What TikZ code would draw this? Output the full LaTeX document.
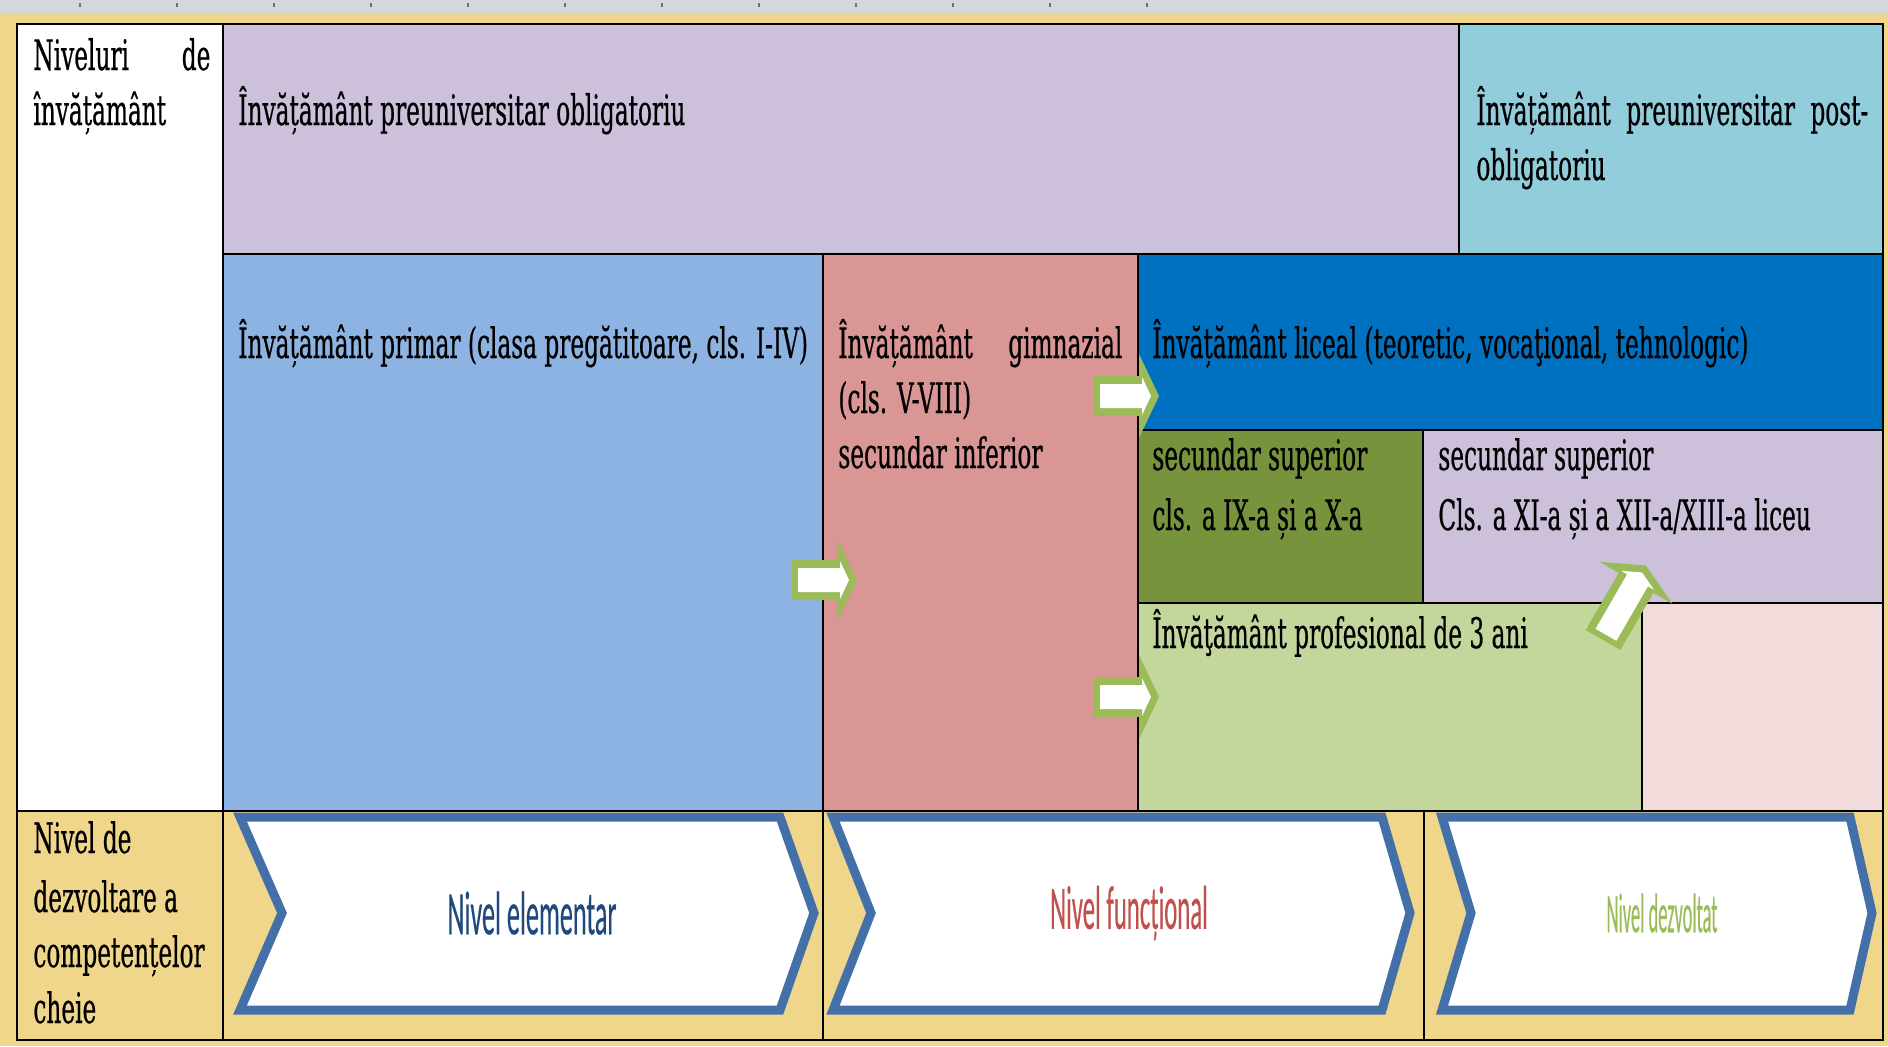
\documentclass[tikz,border=0pt]{standalone}
\usepackage{fontspec}
\usepackage{graphicx}
\setmainfont{DejaVu Serif}
\newfontfamily\cellfont[FakeStretch=0.553,FakeBold=0.5]{DejaVu Serif}
\newfontfamily\chevfont[FakeBold=0.4]{Carlito}
\definecolor{bgyellow}{HTML}{F0D68A}
\definecolor{rulergray}{HTML}{D4D7DB}
\definecolor{tickgray}{HTML}{707070}
\definecolor{cpurple}{HTML}{CCC0DA}
\definecolor{ccyan}{HTML}{92CDDC}
\definecolor{cblue}{HTML}{8DB3E2}
\definecolor{cpink}{HTML}{D99694}
\definecolor{cdarkblue}{HTML}{0070C0}
\definecolor{colive}{HTML}{77933C}
\definecolor{clightgreen}{HTML}{C3D69B}
\definecolor{clightpink}{HTML}{F2DCDB}
\definecolor{chevblue}{HTML}{4470AA}
\definecolor{arrowgreen}{HTML}{9BBB59}
\definecolor{txtblue}{HTML}{1F497D}
\definecolor{txtred}{HTML}{C0504D}
\definecolor{txtgreen}{HTML}{9BBB59}
\newcommand{\blkarrow}[4]{%
  \begin{scope}[shift={(#1,#2)}, rotate=#3]
    \fill[arrowgreen] (0,-20) -- (#4,-20) -- (#4,-42) -- ({#4+20},0) -- (#4,42) -- (#4,20) -- (0,20) -- cycle;
    \fill[white] (6,-12) -- ({#4+3},-12) -- ({#4+3},-19) -- ({#4+12},0) -- ({#4+3},19) -- ({#4+3},12) -- (6,12) -- cycle;
  \end{scope}}
\begin{document}
\begin{tikzpicture}[x=0.5pt,y=-0.5pt,
  cell/.style={draw=black, line width=1pt},
  tx/.style={anchor=base west, inner sep=0pt, font=\cellfont\fontsize{21}{24}\selectfont},
  chev/.style={draw=chevblue, fill=white, line width=4.5pt, line join=miter},
  chevtxt/.style={anchor=center, inner sep=0pt}]
\useasboundingbox (0,0) rectangle (1888,1046);
% background
\fill[bgyellow] (0,0) rectangle (1888,1046);
\fill[rulergray] (0,0) rectangle (1888,13);
\foreach \k in {0,...,11} \draw[tickgray, line width=0.6pt] ({80+97*\k},3) -- ({80+97*\k},7);
% cells
\draw[cell, fill=white] (17,24) rectangle (223,811);
\draw[cell, fill=cpurple] (223,24) rectangle (1459,254);
\draw[cell, fill=ccyan] (1459,24) rectangle (1883,254);
\draw[cell, fill=cblue] (223,254) rectangle (823,811);
\draw[cell, fill=cpink] (823,254) rectangle (1138,811);
\draw[cell, fill=cdarkblue] (1138,254) rectangle (1883,430);
\draw[cell, fill=colive] (1138,430) rectangle (1423,603);
\draw[cell, fill=cpurple] (1423,430) rectangle (1883,603);
\draw[cell, fill=clightgreen] (1138,603) rectangle (1642,811);
\draw[cell, fill=clightpink] (1642,603) rectangle (1883,811);
\draw[cell, fill=bgyellow] (17,811) rectangle (223,1040);
\draw[cell, fill=bgyellow] (223,811) rectangle (823,1040);
\draw[cell, fill=bgyellow] (823,811) rectangle (1424,1040);
\draw[cell, fill=bgyellow] (1424,811) rectangle (1883,1040);
\draw[line width=1.4pt] (17,24) rectangle (1883,1040);
% chevrons
\draw[chev] (240,817) -- (780,817) -- (814,913) -- (780,1010) -- (240,1010) -- (282,913) -- cycle;
\draw[chev] (833,817) -- (1382,817) -- (1410,913) -- (1382,1010) -- (833,1010) -- (871,913) -- cycle;
\draw[chev] (1442,817) -- (1850,817) -- (1872,913) -- (1850,1010) -- (1442,1010) -- (1471,913) -- cycle;
\node[chevtxt, text=txtblue] (elem) at (532,913) {\chevfont\fontsize{31}{31}\selectfont\scalebox{0.422}[1]{Nivel elementar}};
\node[chevtxt, text=txtred] (func) at (1129,913) {\chevfont\fontsize{31}{31}\selectfont\scalebox{0.399}[1]{Nivel funcțional}};
\node[chevtxt, text=txtgreen] (dezv) at (1662,913) {\chevfont\fontsize{28}{28}\selectfont\scalebox{0.33}[1]{Nivel dezvoltat}};
% texts
\node[tx] (niv1) at (33,70) {\hbox to 88.5pt{Niveluri\hfill de}};
\node[tx] (niv2) at (33,125) {învățământ};
\node[tx] (oblig) at (238,125) {Învățământ preuniversitar obligatoriu};
\node[tx] (post1) at (1476,125) {\hbox to 196pt{Învățământ\hfill preuniversitar\hfill post-}};
\node[tx] (post2) at (1476,180) {obligatoriu};
\node[tx] (prim) at (238,358) {Învățământ primar (clasa pregătitoare, cls. I-IV)};
\node[tx] (gim1) at (838,358) {\hbox to 142pt{Învățământ\hfill gimnazial}};
\node[tx] (gim2) at (838,413) {(cls. V-VIII)};
\node[tx] (gim3) at (838,468) {secundar inferior};
\node[tx] (lic) at (1152,358) {Învățământ liceal (teoretic, vocaţional, tehnologic)};
\node[tx] (sup1a) at (1152,470) {secundar superior};
\node[tx] (sup1b) at (1152,530) {cls. a IX-a și a X-a};
\node[tx] (sup2a) at (1438,470) {secundar superior};
\node[tx] (sup2b) at (1438,530) {Cls. a XI-a și a XII-a/XIII-a liceu};
\node[tx] (prof) at (1152,648) {Învăţământ profesional de 3 ani};
\node[tx] (ndz1) at (33,853) {Nivel de};
\node[tx] (ndz2) at (33,912) {dezvoltare a};
\node[tx] (ndz3) at (33,967) {competențelor};
\node[tx] (ndz4) at (33,1023) {cheie};
% block arrows
\blkarrow{792}{580}{0}{45}
\blkarrow{1094}{396}{0}{45}
\blkarrow{1094}{697}{0}{45}
\blkarrow{1603}{640}{60}{66}
\end{tikzpicture}
\end{document}
